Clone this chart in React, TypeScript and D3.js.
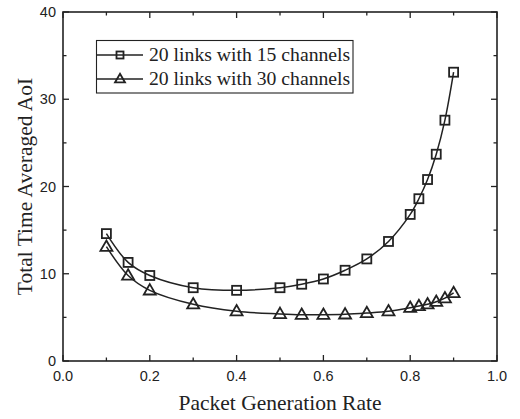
import React from "react";
import * as d3 from "d3";

const xValues = [0.1, 0.15, 0.2, 0.3, 0.4, 0.5, 0.55, 0.6, 0.65, 0.7, 0.75, 0.8, 0.82, 0.84, 0.86, 0.88, 0.9];
const series15 = [14.6, 11.3, 9.8, 8.4, 8.1, 8.4, 8.8, 9.4, 10.4, 11.7, 13.7, 16.8, 18.6, 20.8, 23.7, 27.6, 33.1];
const series30 = [13.1, 9.8, 8.1, 6.5, 5.7, 5.4, 5.3, 5.3, 5.35, 5.5, 5.7, 6.1, 6.3, 6.5, 6.8, 7.2, 7.8];
const seriesNames = ["20 links with 15 channels", "20 links with 30 channels"];
const xTicks = [0, 0.2, 0.4, 0.6, 0.8, 1.0];
const xMinor = [0.1, 0.3, 0.5, 0.7, 0.9];
const yTicks = [0, 10, 20, 30, 40];
const yMinor = [5, 15, 25, 35];

const W = 520, H = 419;
const L = 63, R = 497, T = 12, B = 361;
const C = "#222";

export default function App() {
  const x = d3.scaleLinear().domain([0, 1]).range([L, R]);
  const y = d3.scaleLinear().domain([0, 40]).range([B, T]);
  const line = d3.line<number>()
    .x((_, i) => x(xValues[i]))
    .y((d) => y(d))
    .curve(d3.curveCatmullRom.alpha(0.5));
  const sq = (cx: number, cy: number, s: number, k: string) => (
    <rect key={k} x={cx - s / 2} y={cy - s / 2} width={s} height={s} fill="none" stroke={C} strokeWidth={1.8} />
  );
  const tri = (cx: number, cy: number, s: number, k: string) => {
    const h = s * 0.866;
    return (
      <path key={k} d={`M${cx},${cy - h * 0.6}L${cx + s / 2},${cy + h * 0.4}L${cx - s / 2},${cy + h * 0.4}Z`}
        fill="none" stroke={C} strokeWidth={1.8} strokeLinejoin="miter" />
    );
  };
  const maj = 6, mnr = 3.5;
  return (
    <svg width={W} height={H} style={{ display: "block", position: "absolute", left: 0, top: 0 }}>
      <rect width={W} height={H} fill="#fff" />
      <path d={line(series15) || ""} fill="none" stroke={C} strokeWidth={1.5} />
      <path d={line(series30) || ""} fill="none" stroke={C} strokeWidth={1.5} />
      {series15.map((v, i) => sq(x(xValues[i]), y(v), 9, "s" + i))}
      {series30.map((v, i) => tri(x(xValues[i]), y(v), 12, "t" + i))}
      {xTicks.map((t) => (
        <g key={"xt" + t}>
          <line x1={x(t)} x2={x(t)} y1={B} y2={B - maj} stroke={C} strokeWidth={1.3} />
          <line x1={x(t)} x2={x(t)} y1={T} y2={T + maj} stroke={C} strokeWidth={1.3} />
          <text x={x(t)} y={B + 20} textAnchor="middle" fontFamily="Liberation Sans, Arial, sans-serif" fontSize={14.5} fill={C}>
            {t.toFixed(1)}
          </text>
        </g>
      ))}
      {xMinor.map((t) => (
        <g key={"xm" + t}>
          <line x1={x(t)} x2={x(t)} y1={B} y2={B - mnr} stroke={C} strokeWidth={1.3} />
          <line x1={x(t)} x2={x(t)} y1={T} y2={T + mnr} stroke={C} strokeWidth={1.3} />
        </g>
      ))}
      {yTicks.map((t) => (
        <g key={"yt" + t}>
          <line x1={L} x2={L + maj} y1={y(t)} y2={y(t)} stroke={C} strokeWidth={1.3} />
          <line x1={R} x2={R - maj} y1={y(t)} y2={y(t)} stroke={C} strokeWidth={1.3} />
          <text x={L - 7} y={y(t) + 5} textAnchor="end" fontFamily="Liberation Sans, Arial, sans-serif" fontSize={14.5} fill={C}>
            {t}
          </text>
        </g>
      ))}
      {yMinor.map((t) => (
        <g key={"ym" + t}>
          <line x1={L} x2={L + mnr} y1={y(t)} y2={y(t)} stroke={C} strokeWidth={1.3} />
          <line x1={R} x2={R - mnr} y1={y(t)} y2={y(t)} stroke={C} strokeWidth={1.3} />
        </g>
      ))}
      <rect x={L} y={T} width={R - L} height={B - T} fill="none" stroke={C} strokeWidth={1.6} />
      <rect x={96.5} y={40.5} width={256.5} height={52.5} fill="#fff" stroke={C} strokeWidth={1.1} />
      {[0, 1].map((i) => {
        const ly = i === 0 ? 55 : 79;
        return (
          <g key={"lg" + i}>
            <line x1={97} x2={143} y1={ly} y2={ly} stroke={C} strokeWidth={1.4} />
            {i === 0 ? sq(120, ly, 7, "ls") : tri(120, ly, 10, "lt")}
            <text x={149} y={ly + 6} fontFamily="Liberation Serif, Times New Roman, serif" fontSize={19.7} fill={C}>
              {seriesNames[i]}
            </text>
          </g>
        );
      })}
      <text x={(L + R) / 2} y={410} textAnchor="middle" fontFamily="Liberation Serif, Times New Roman, serif" fontSize={21.5} fill={C}>
        Packet Generation Rate
      </text>
      <text transform={`translate(32,${(T + B) / 2}) rotate(-90)`} textAnchor="middle" fontFamily="Liberation Serif, Times New Roman, serif" fontSize={21.5} fill={C}>
        Total Time Averaged AoI
      </text>
    </svg>
  );
}
